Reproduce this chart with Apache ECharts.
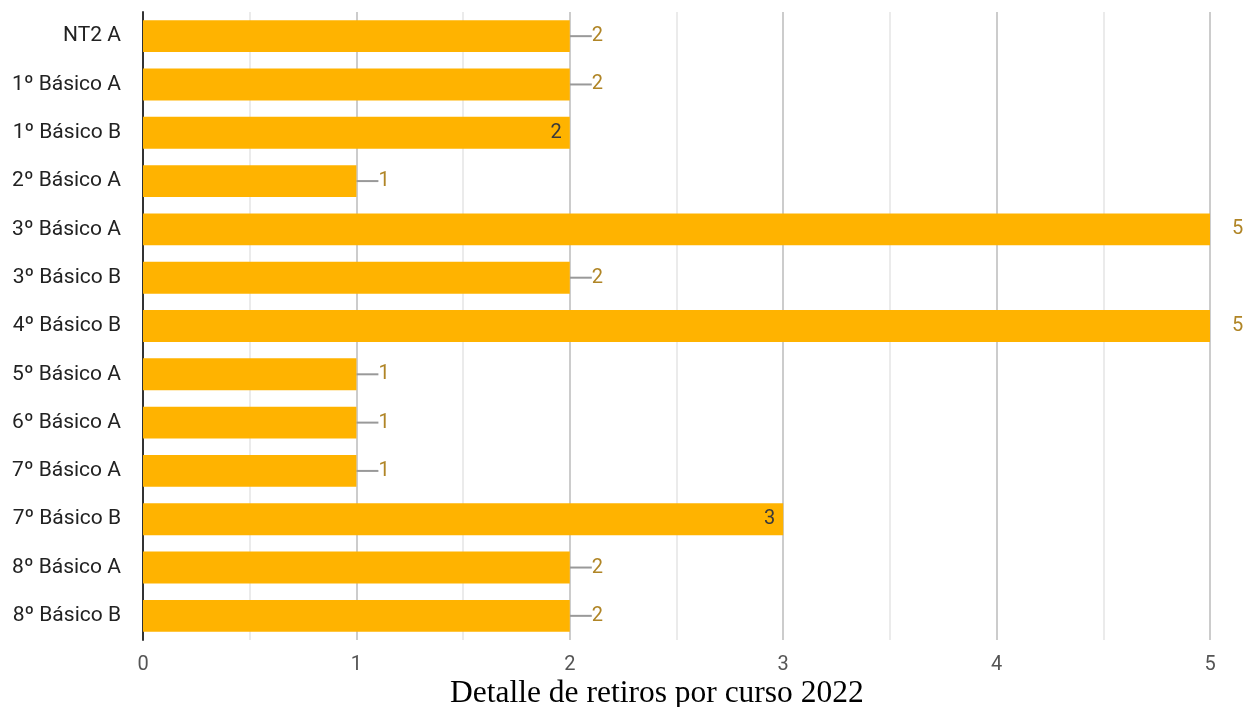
<!DOCTYPE html>
<html><head><meta charset="utf-8">
<script src="https://cdn.jsdelivr.net/npm/echarts@6/dist/echarts.min.js"></script>
<style>html,body{margin:0;padding:0;background:#fff}#c{width:1245px;height:707px}</style>
</head><body><div id="c"></div>
<script>
const categories = ['NT2 A','1º Básico A','1º Básico B','2º Básico A','3º Básico A','3º Básico B','4º Básico B','5º Básico A','6º Básico A','7º Básico A','7º Básico B','8º Básico A','8º Básico B'];
const values = [2,2,2,1,5,2,5,1,1,1,3,2,2];
const insideLabels = ['1º Básico B','7º Básico B'];
const xTicks = [0,1,2,3,4,5];
const title = 'Detalle de retiros por curso 2022';

const chart = echarts.init(document.getElementById('c'));
const data = values.map((v,i)=>{
  const inside = insideLabels.includes(categories[i]);
  const item = {value:v};
  if (inside) {
    item.label = {show:true,position:'insideRight', distance:8, color:'#3a3a3a'};
    item.labelLine = {show:false};
  } else if (v === 5) {
    item.labelLine = {show:false};
  }
  return item;
});
chart.setOption({
  animation:false,
  title:{text:title,left:445,top:673,textStyle:{fontFamily:'Liberation Serif',fontSize:31.5,fontWeight:'normal',color:'#000'}},
  grid:{left:143,right:35,top:12,bottom:67,containLabel:false},
  xAxis:{type:'value',min:0,max:5,interval:1,
    axisLine:{show:false},axisTick:{show:false},
    axisLabel:{color:'#555',fontSize:20,fontFamily:'Roboto',margin:15,formatter:v=>xTicks.includes(v)?String(v):''},
    splitLine:{show:true,lineStyle:{color:'#cccccc',width:2}},
    minorTick:{show:false,splitNumber:2},
    minorSplitLine:{show:true,lineStyle:{color:'#ebebeb',width:2}}
  },
  yAxis:{type:'category',data:categories,inverse:true,
    axisLine:{show:true,lineStyle:{color:'#333',width:2}},axisTick:{show:false},
    axisLabel:{color:'#222',fontSize:21,fontFamily:'Roboto',margin:22}
  },
  series:[{type:'bar',data:data,barCategoryGap:'34%',
    itemStyle:{color:'#ffb300'},
    label:{show:true,position:'right',distance:0,color:'#b08526',fontSize:20,fontFamily:'Roboto'},
    labelLayout:function(p){ return insideLabels.includes(categories[p.dataIndex]) ? {} : {dx:22}; },
    labelLine:{show:true,lineStyle:{color:'#999',width:2}}
  }]
});
</script></body></html>
